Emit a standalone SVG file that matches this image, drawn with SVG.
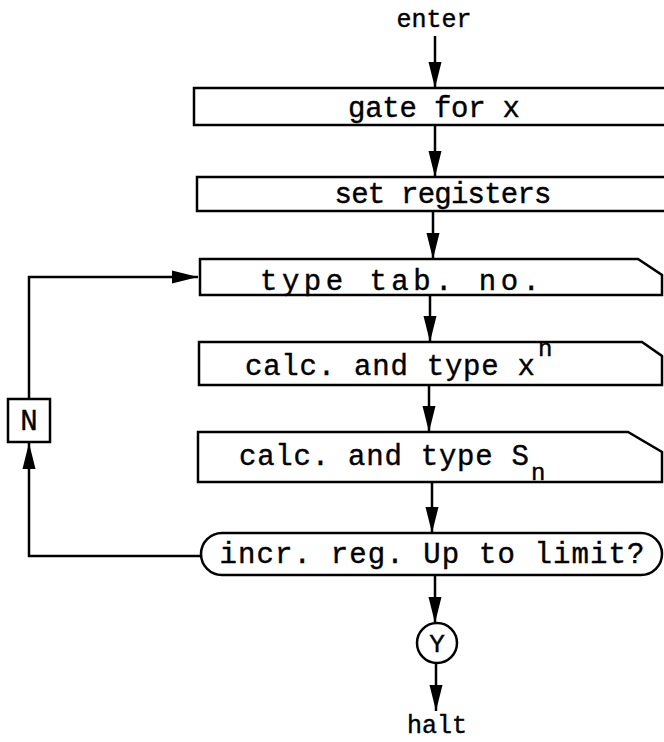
<svg xmlns="http://www.w3.org/2000/svg" width="664" height="742" viewBox="0 0 664 742">
<style>
.box{fill:#fff;stroke:#000;stroke-width:2.5}
.ln{fill:none;stroke:#000;stroke-width:2.5}
.t{font-family:"Liberation Mono","Courier New",monospace;font-size:29px;fill:#000;stroke:#000;stroke-width:0.4;text-anchor:middle}
.s{font-family:"Liberation Mono","Courier New",monospace;font-size:24px;fill:#000;stroke:#000;stroke-width:0.4}
</style>
<defs>
<marker id="ah" markerUnits="userSpaceOnUse" markerWidth="28" markerHeight="16" refX="26" refY="8" orient="auto">
<path d="M0,1.5 L26,8 L0,14.5 Z" fill="#000"/>
</marker>
</defs>
<rect width="664" height="742" fill="#fff"/>
<g id="connectors">
<line class="ln" x1="435" y1="36" x2="435" y2="88" marker-end="url(#ah)"/>
<line class="ln" x1="435" y1="125" x2="435" y2="177" marker-end="url(#ah)"/>
<line class="ln" x1="433" y1="211" x2="433" y2="259" marker-end="url(#ah)"/>
<line class="ln" x1="430" y1="295" x2="430" y2="342" marker-end="url(#ah)"/>
<line class="ln" x1="429" y1="385" x2="429" y2="432" marker-end="url(#ah)"/>
<line class="ln" x1="432" y1="482" x2="432" y2="533" marker-end="url(#ah)"/>
<polyline class="ln" points="201,556 29,556 29,443" marker-end="url(#ah)"/>
<polyline class="ln" points="29,399 29,277 198,277" marker-end="url(#ah)"/>
<line class="ln" x1="435" y1="575" x2="435" y2="623" marker-end="url(#ah)"/>
<line class="ln" x1="436" y1="663" x2="436" y2="711" marker-end="url(#ah)"/>
</g>
<g id="enter"><text class="t" x="434" y="27" style="font-size:25px">enter</text></g>
<g id="gate"><rect class="box" x="194" y="88" width="480" height="37"/><text class="t" x="434" y="117" textLength="172">gate for x</text></g>
<g id="setreg"><rect class="box" x="197" y="177" width="480" height="34"/><text class="t" x="443" y="203" textLength="217">set registers</text></g>
<g id="typetab"><path class="box" d="M200,259 H638 L662,275 V295 H200 Z"/><text class="t" x="400" y="290" textLength="280">type tab. no.</text></g>
<g id="calcx"><path class="box" d="M199,342 H642 L662,356 V385 H199 Z"/><text class="t" x="390" y="375" textLength="290">calc. and type x</text><text class="s" x="538" y="356">n</text></g>
<g id="calcs"><path class="box" d="M198,432 H628 L662,452 V482 H198 Z"/><text class="t" x="384" y="465" textLength="290">calc. and type S</text><text class="s" x="531" y="480">n</text></g>
<g id="decision"><rect class="box" x="201" y="533" width="461" height="42" rx="21"/><text class="t" x="432" y="563" textLength="425">incr. reg. Up to limit?</text></g>
<g id="N"><rect class="box" x="8" y="399" width="42" height="43"/><text class="t" x="29" y="430">N</text></g>
<g id="Y"><circle class="box" cx="437" cy="643" r="20"/><text class="t" x="437" y="652" style="font-size:26px">Y</text></g>
<g id="halt"><text class="t" x="437" y="733" style="font-size:25px">halt</text></g>
</svg>
